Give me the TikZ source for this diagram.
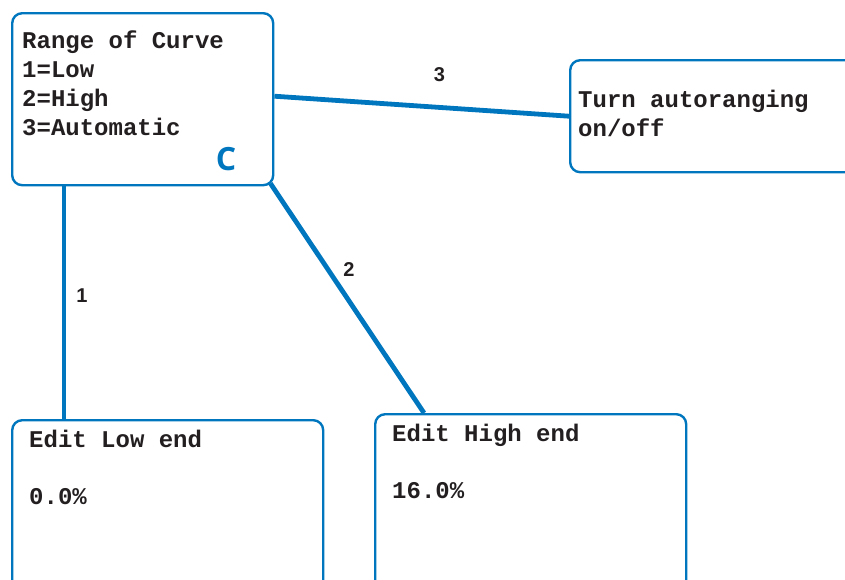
\documentclass[tikz,border=0pt]{standalone}
\usepackage{fontspec}
\newfontfamily\monofont{Liberation Mono}
\newfontfamily\labelfont{Liberation Sans}
\newfontfamily\markfont{Open Sans}
\definecolor{menublue}{RGB}{0,118,190}
\definecolor{inkgray}{RGB}{35,31,32}

\begin{document}
\begin{tikzpicture}[x=1pt, y=-1pt,
    menubox/.style ={draw=menublue, line width=2.4pt, rounded corners=10pt, inner sep=0pt, anchor=north west},
    menutext/.style ={text=inkgray, font=\monofont\bfseries\fontsize{24}{29}\selectfont, align=left, anchor=base west, inner sep=0pt},
    link/.style ={draw=menublue, line width=4.8pt},
    linklabel/.style ={text=inkgray, font=\labelfont\bfseries\fontsize{20}{20}\selectfont, inner sep=0pt}]
   \useasboundingbox (0,0) rectangle (845,579);
   \clip (0,0) rectangle (845,579);
   % menu boxes
   \node[menubox, minimum width=261pt, minimum height=172pt] (C) at (11,12) {};
   \node[menubox, minimum width=331pt, minimum height=112pt] (R) at (569,59) {};
   \node[menubox, minimum width=311pt, minimum height=221pt] (L) at (11,419) {};
   \node[menubox, minimum width=311pt, minimum height=227pt] (H) at (374,413) {};
   % box texts (base = last line)
   \node[menutext] (Ctext) at (22,135) {Range of Curve\\1=Low\\2=High\\3=Automatic};
   \node[text=menublue, font=\markfont\bfseries\fontsize{32}{32}\selectfont, inner sep=0pt] (mark) at (226,159) {C};
   \node[menutext] (Rtext) at (578,136) {Turn autoranging\\on/off};
   \node[menutext] (Ltext) at (29,447) {Edit Low end};
   \node[menutext] (Lval) at (29,504) {0.0\%};
   \node[menutext] (Htext) at (392,441) {Edit High end};
   \node[menutext] (Hval) at (392,498) {16.0\%};
   % links
   \draw[link] ([yshift=3pt]C.east) -- (R.west) node[linklabel, pos=0.56, yshift=33pt] (n3) {3};
   \draw[link] ([xshift=53pt]C.south west) -- ([xshift=53pt]L.north west) node[linklabel, pos=0.47, xshift=18pt] (n1) {1};
   \draw[link] ([xshift=-4pt, yshift=3pt]C.south east) -- ([xshift=50pt]H.north west) node[linklabel, pos=0.42, xshift=14pt, yshift=10pt] (n2) {2};
\end{tikzpicture}
\end{document}
